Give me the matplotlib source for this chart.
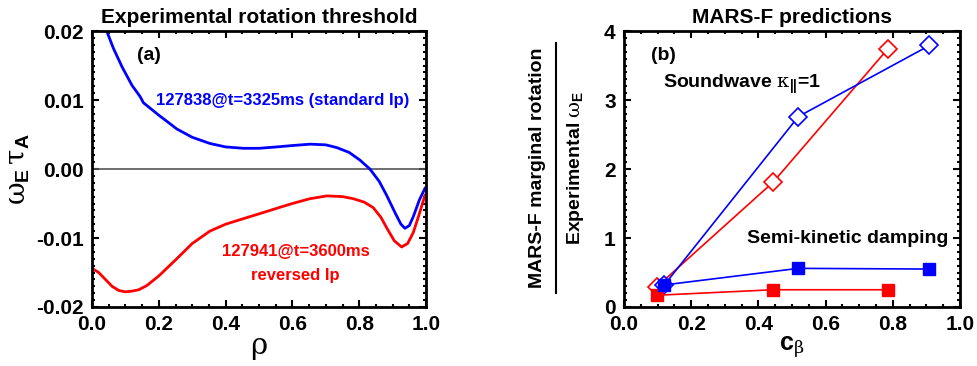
import matplotlib
matplotlib.use('Agg')
import matplotlib.pyplot as plt
from matplotlib.ticker import MultipleLocator, FormatStrFormatter
from matplotlib.lines import Line2D

# panel (a): rotation profiles
rho_std = [0.03, 0.044, 0.064, 0.09, 0.12, 0.144, 0.154, 0.2, 0.254, 0.3, 0.353, 0.4, 0.453, 0.5,
           0.553, 0.6, 0.653, 0.7, 0.733, 0.77, 0.802, 0.832, 0.86, 0.882, 0.91, 0.925, 0.937,
           0.95, 0.962, 0.98, 0.997]
w_std = [0.0235, 0.020, 0.0175, 0.0148, 0.0121, 0.0105, 0.0096, 0.0078, 0.0058, 0.0046, 0.0037,
         0.0032, 0.0030, 0.0030, 0.0032, 0.0034, 0.0036, 0.0035, 0.0031, 0.0024, 0.0013, 0.0,
         -0.0018, -0.0038, -0.0066, -0.0080, -0.0086, -0.0082, -0.0069, -0.0045, -0.0028]

rho_rev = [0.0, 0.02, 0.04, 0.06, 0.08, 0.099, 0.12, 0.14, 0.164, 0.2, 0.254, 0.3, 0.353, 0.4,
           0.453, 0.5, 0.553, 0.6, 0.653, 0.703, 0.75, 0.782, 0.815, 0.842, 0.865, 0.882, 0.905,
           0.927, 0.945, 0.962, 0.98, 0.997]
w_rev = [-0.0144, -0.0150, -0.0160, -0.0170, -0.0176, -0.0178, -0.0177, -0.0175, -0.0169, -0.0155,
         -0.0130, -0.0108, -0.0090, -0.0080, -0.0072, -0.0065, -0.0057, -0.0050, -0.0043, -0.0039,
         -0.0040, -0.0043, -0.0048, -0.0056, -0.0070, -0.0085, -0.0104, -0.0113, -0.0108, -0.0092,
         -0.0065, -0.0038]

# panel (b): MARS-F predictions
cb_red = [0.097, 0.444, 0.785]
sound_red = [0.29, 1.81, 3.74]
kin_red = [0.17, 0.25, 0.25]
cb_blue = [0.12, 0.519, 0.909]
sound_blue = [0.32, 2.76, 3.79]
kin_blue = [0.32, 0.56, 0.55]

FONT = ['Liberation Sans Narrow', 'Liberation Sans', 'DejaVu Sans']
plt.rcParams['font.family'] = FONT
plt.rcParams['font.weight'] = 'bold'
plt.rcParams['axes.titleweight'] = 'bold'
plt.rcParams['axes.labelweight'] = 'bold'
plt.rcParams['mathtext.fontset'] = 'custom'
plt.rcParams['mathtext.rm'] = 'DejaVu Serif:weight=normal'
plt.rcParams['mathtext.it'] = 'DejaVu Serif:weight=normal'
plt.rcParams['mathtext.bf'] = 'Liberation Sans:bold'
plt.rcParams['mathtext.sf'] = 'Liberation Sans:bold'

fig = plt.figure(figsize=(9.77, 3.66), dpi=100)
ax1 = fig.add_axes([92 / 977, 1 - 307 / 366, 334 / 977, 276 / 366])
ax2 = fig.add_axes([624 / 977, 1 - 307 / 366, 336 / 977, 276 / 366])


def style_axes(ax):
    for s in ax.spines.values():
        s.set_linewidth(2)
    ax.tick_params(which='both', direction='in', top=True, right=True, width=1.5)
    ax.tick_params(which='major', length=5, labelsize=15, pad=6)
    ax.tick_params(which='minor', length=2.5)


# ---- left panel
ax1.axhline(0, color='#555555', lw=1.2)
ax1.plot(rho_std, w_std, color='blue', lw=2)
ax1.plot(rho_rev, w_rev, color='red', lw=2)
ax1.set_xlim(0, 1)
ax1.set_ylim(-0.02, 0.02)
ax1.xaxis.set_major_locator(MultipleLocator(0.2))
ax1.xaxis.set_minor_locator(MultipleLocator(0.05))
ax1.yaxis.set_major_locator(MultipleLocator(0.01))
ax1.yaxis.set_minor_locator(MultipleLocator(0.001))
ax1.xaxis.set_major_formatter(FormatStrFormatter('%.1f'))
ax1.yaxis.set_major_formatter(FormatStrFormatter('%.2f'))
style_axes(ax1)
ax1.set_title('Experimental rotation threshold', fontsize=15, fontweight='bold', pad=6)
ax1.set_xlabel(r'$\mathrm{\rho}$', fontsize=21, labelpad=0)
ax1.set_ylabel(r'$\mathrm{\omega}_{\mathbf{E}}\,\mathrm{\tau}_{\mathbf{A}}$', fontsize=20,
               labelpad=3)
ax1.text(0.135, 0.91, '(a)', transform=ax1.transAxes, fontsize=14, va='center')
ax1.text(0.57, 0.75, '127838@t=3325ms (standard Ip)', transform=ax1.transAxes,
         color='blue', fontsize=12, ha='center', va='center')
ax1.text(0.61, 0.20, '127941@t=3600ms', transform=ax1.transAxes,
         color='red', fontsize=12, ha='center', va='center')
ax1.text(0.61, 0.115, 'reversed Ip', transform=ax1.transAxes,
         color='red', fontsize=12, ha='center', va='center')

# ---- right panel
ax2.plot(cb_red, sound_red, color='red', lw=1.2, marker='D', ms=9, mfc='white', mew=1.2)
ax2.plot(cb_blue, sound_blue, color='blue', lw=1.2, marker='D', ms=9, mfc='white', mew=1.2)
ax2.plot(cb_red, kin_red, color='red', lw=1.2, marker='s', ms=9)
ax2.plot(cb_blue, kin_blue, color='blue', lw=1.2, marker='s', ms=9)
ax2.set_xlim(0, 1)
ax2.set_ylim(0, 4)
ax2.xaxis.set_major_locator(MultipleLocator(0.2))
ax2.xaxis.set_minor_locator(MultipleLocator(0.05))
ax2.yaxis.set_major_locator(MultipleLocator(1))
ax2.yaxis.set_minor_locator(MultipleLocator(0.1))
ax2.xaxis.set_major_formatter(FormatStrFormatter('%.1f'))
style_axes(ax2)
ax2.set_title('MARS-F predictions', fontsize=15, fontweight='bold', pad=6)
ax2.set_xlabel(r'c$_{\mathrm{\beta}}$', fontsize=18, fontweight='bold', labelpad=0)
ax2.text(0.08, 0.91, '(b)', transform=ax2.transAxes, fontsize=14, va='center')
ax2.text(0.115, 0.805, r'Soundwave $\mathrm{\kappa}_{\mathbf{||}}$=1', transform=ax2.transAxes,
         fontsize=14, va='center')
ax2.text(0.965, 0.25, 'Semi-kinetic damping', transform=ax2.transAxes,
         fontsize=14, ha='right', va='center')

# fraction-style y label for panel (b)
fig.text(538 / 977, 1 - 168 / 366, 'MARS-F marginal rotation', rotation=90,
         fontsize=14, ha='center', va='center')
fig.add_artist(Line2D([556 / 977, 556 / 977], [1 - 293 / 366, 1 - 43 / 366],
                      transform=fig.transFigure, color='black', lw=1.5))
fig.text(575 / 977, 1 - 168 / 366, r'Experimental $\mathrm{\omega}_{\mathbf{E}}$', rotation=90,
         fontsize=14, ha='center', va='center')

fig.savefig('out.png', dpi=100)
